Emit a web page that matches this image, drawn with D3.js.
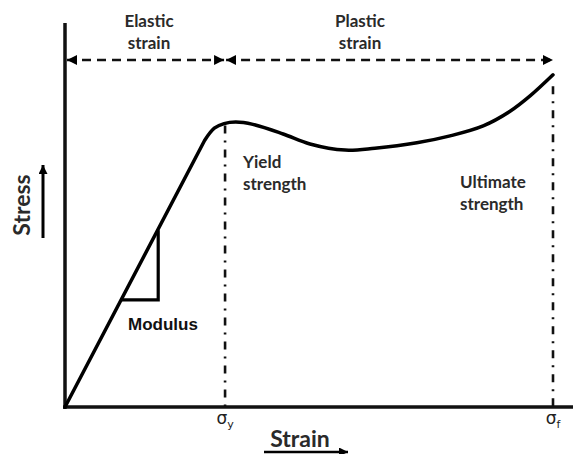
<!DOCTYPE html>
<html>
<head>
<meta charset="utf-8">
<script src="https://cdn.jsdelivr.net/npm/d3@7"></script>
<style>
  html, body { margin: 0; padding: 0; background: #fff; }
  svg { display: block; }
  .lbl { font-family: Lato, "Open Sans", sans-serif; font-weight: 700; fill: #2a2a2a; }
</style>
</head>
<body>
<svg id="chart" width="573" height="454"></svg>
<script>
// Stress–strain curve (normalised units: strain 0–100, stress 0–100)
// The first two points form the straight elastic segment.
const strain = [0, 28.6, 30.6, 32.6, 35.0, 38.5, 44.7, 50.2, 57.4, 63.5, 72.1, 78.9, 85.7, 91.2, 95.3, 100];
const stress = [0, 69.4, 72.6, 73.8, 74.2, 73.6, 71.1, 68.5, 66.9, 67.4, 68.8, 70.6, 73.2, 77.0, 81.0, 86.5];

// Slope triangle marking the elastic modulus
const modulusX = [11.3, 19.1, 19.1];
const modulusY = [27.9, 27.9, 46.0];

// Key strains: yield and fracture
const markStrain = [32.8, 100];
const markSub = ["y", "f"];

// Region labels above the curve
const regionNames = [["Elastic", "strain"], ["Plastic", "strain"]];

const svg = d3.select("#chart");
const x = d3.scaleLinear().domain([0, 100]).range([65, 553]);
const y = d3.scaleLinear().domain([0, 100]).range([407, 23]);

// vertical dash-dot guides at the key strains
const markTop = [stress[3] - 0.5, stress[stress.length - 1] - 3];
markStrain.forEach((s, i) => {
  svg.append("line")
    .attr("x1", x(s)).attr("x2", x(s))
    .attr("y1", y(markTop[i])).attr("y2", y(0) + 5)
    .attr("stroke", "#111").attr("stroke-width", 2.6)
    .attr("stroke-dasharray", "8,7,2,7");
});

// axes
svg.append("line").attr("x1", x(0)).attr("x2", x(0)).attr("y1", y(100)).attr("y2", y(0) + 2)
  .attr("stroke", "#111").attr("stroke-width", 3.5);
svg.append("line").attr("x1", x(0) - 2).attr("x2", 573).attr("y1", y(0)).attr("y2", y(0))
  .attr("stroke", "#111").attr("stroke-width", 3.5);

// curve: straight elastic part, then a smooth plastic part
const pts = strain.map((s, i) => [s, stress[i]]);
const smooth = d3.line().x(d => x(d[0])).y(d => y(d[1])).curve(d3.curveCatmullRom.alpha(0.5));
const plasticPath = smooth(pts.slice(1));
const curveD = `M${x(pts[0][0])},${y(pts[0][1])}L` + plasticPath.slice(1);
svg.append("path")
  .attr("d", curveD)
  .attr("fill", "none").attr("stroke", "#000").attr("stroke-width", 3.5)
  .attr("stroke-linejoin", "round").attr("stroke-linecap", "round");

// modulus triangle
svg.append("path")
  .attr("d", d3.line().x(d => x(d[0])).y(d => y(d[1]))(modulusX.map((v, i) => [v, modulusY[i]])))
  .attr("fill", "none").attr("stroke", "#000").attr("stroke-width", 3.2).attr("stroke-linejoin", "miter");
svg.append("text").attr("x", 128).attr("y", 330)
  .attr("font-family", "'Liberation Sans', Arial, sans-serif").attr("font-weight", 700)
  .attr("font-size", 17).attr("fill", "#111").text("Modulus");

// arrowheads
const defs = svg.append("defs");
defs.append("marker").attr("id", "head").attr("viewBox", "0 0 10 10")
  .attr("refX", 10).attr("refY", 5).attr("markerWidth", 10).attr("markerHeight", 10)
  .attr("markerUnits", "userSpaceOnUse").attr("orient", "auto-start-reverse")
  .append("path").attr("d", "M0,0 L10,5 L0,10 Z").attr("fill", "#000");
defs.append("marker").attr("id", "head2").attr("viewBox", "0 0 10 10")
  .attr("refX", 10).attr("refY", 5).attr("markerWidth", 9).attr("markerHeight", 9)
  .attr("markerUnits", "userSpaceOnUse").attr("orient", "auto")
  .append("path").attr("d", "M0,0 L10,5 L0,10 Z").attr("fill", "#000");

// dashed double-headed arrows for the strain regions
const arrowY = 60;
const regionBounds = [[0, markStrain[0]], [markStrain[0], markStrain[1]]];
regionBounds.forEach((b, i) => {
  svg.append("line")
    .attr("x1", x(b[0]) + (i === 0 ? 2 : 1)).attr("x2", x(b[1]) - (i === 0 ? 1 : 0))
    .attr("y1", arrowY).attr("y2", arrowY)
    .attr("stroke", "#111").attr("stroke-width", 2.6)
    .attr("stroke-dasharray", "9,6")
    .attr("marker-start", "url(#head)").attr("marker-end", "url(#head)");
  const cx = i === 0 ? 149 : 360;
  regionNames[i].forEach((t, j) => {
    svg.append("text").attr("class", "lbl").attr("x", cx).attr("y", 27 + j * 22)
      .attr("text-anchor", "middle").attr("font-size", 17).text(t);
  });
});

// point annotations
[["Yield", "strength", 243, 168], ["Ultimate", "strength", 460, 188]].forEach(a => {
  const t = svg.append("text").attr("class", "lbl").attr("font-size", 17).attr("x", a[2]).attr("y", a[3]);
  t.append("tspan").attr("x", a[2]).text(a[0]);
  t.append("tspan").attr("x", a[2]).attr("dy", 22).text(a[1]);
});

// sigma labels under the axis
markStrain.forEach((s, i) => {
  const t = svg.append("text").attr("x", x(s)).attr("y", 424).attr("text-anchor", "middle")
    .attr("font-family", "'DejaVu Sans', sans-serif").attr("font-size", 17).attr("fill", "#222");
  t.append("tspan").text("σ");
  t.append("tspan").attr("font-size", 11).attr("dy", 4).text(markSub[i]);
});

// axis titles with arrows
svg.append("text").attr("class", "lbl").attr("font-size", 23)
  .attr("transform", "translate(30,205) rotate(-90)").attr("text-anchor", "middle").text("Stress");
svg.append("line").attr("x1", 43).attr("x2", 43).attr("y1", 238).attr("y2", 165)
  .attr("stroke", "#000").attr("stroke-width", 3).attr("marker-end", "url(#head2)");

svg.append("text").attr("class", "lbl").attr("font-size", 23)
  .attr("x", 300).attr("y", 447).attr("text-anchor", "middle").text("Strain");
svg.append("line").attr("x1", 264).attr("x2", 348).attr("y1", 452).attr("y2", 452)
  .attr("stroke", "#000").attr("stroke-width", 2.5).attr("marker-end", "url(#head2)");
</script>
</body>
</html>
